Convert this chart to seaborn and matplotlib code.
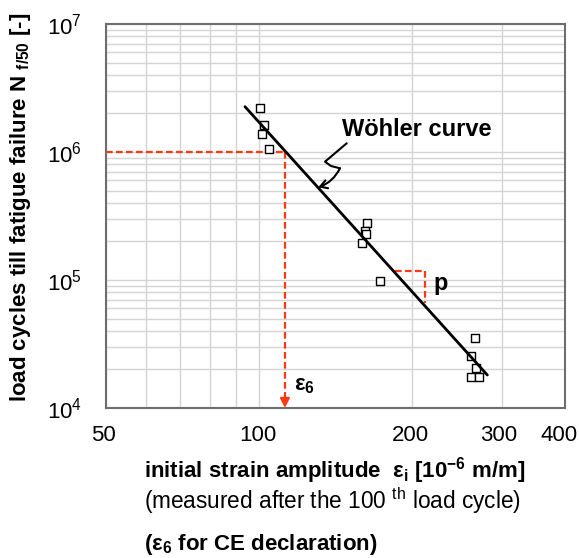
import numpy as np
import pandas as pd
import matplotlib
matplotlib.use("Agg")
import matplotlib.pyplot as plt
import seaborn as sns
import matplotlib.transforms as mtransforms
from matplotlib.ticker import FixedLocator, NullFormatter, LogLocator
from matplotlib.lines import Line2D

# ---- data ----
strain = [100.7, 102.2, 101.3, 104.5, 162.8, 161.3, 162.0, 159.2, 172.9,
          265.8, 260.6, 266.6, 260.6, 270.6]
cycles = [2.22e6, 1.63e6, 1.37e6, 1.05e6, 2.77e5, 2.43e5, 2.28e5, 1.94e5, 9.8e4,
          3.54e4, 2.55e4, 2.04e4, 1.76e4, 1.76e4]
fit_strain = [93.9, 281.1]
fit_cycles = [2.26e6, 1.81e4]
eps6 = 112.5
n6 = 1e6
p_strain = [185.1, 212.1]
p_cycles = [1.18e5, 6.65e4]
x_ticks = [50, 100, 200, 300, 400]
x_tick_labels = ["50", "100", "200", "300", "400"]
x_minor_grid = [60, 70, 80, 90]
y_ticks = [1e4, 1e5, 1e6, 1e7]
y_tick_labels = [r"$\mathregular{10^{4}}$", r"$\mathregular{10^{5}}$",
                 r"$\mathregular{10^{6}}$", r"$\mathregular{10^{7}}$"]

RED = "#ff3a12"
GRID = "#d4d4d4"
SPINE = "#6e6e6e"
FS = 16

sns.set_style("white")
plt.rcParams["font.family"] = ["Liberation Sans", "DejaVu Sans"]
plt.rcParams["mathtext.fontset"] = "custom"
plt.rcParams["mathtext.rm"] = "Liberation Sans"
plt.rcParams["mathtext.it"] = "Liberation Sans:italic"
plt.rcParams["mathtext.bf"] = "Liberation Sans:bold"
plt.rcParams["text.color"] = "black"
plt.rcParams["xtick.color"] = "black"
plt.rcParams["ytick.color"] = "black"
plt.rcParams["xtick.labelcolor"] = "black"
plt.rcParams["ytick.labelcolor"] = "black"

W, H = 579, 558
fig = plt.figure(figsize=(W / 100, H / 100), dpi=100)
x0, x1, yt, yb = 105.7, 565.3, 24, 408
ax = fig.add_axes([x0 / W, (H - yb) / H, (x1 - x0) / W, (yb - yt) / H])
ax.set_xscale("log")
ax.set_yscale("log")

df = pd.DataFrame({"strain": strain, "cycles": cycles})
fit = pd.DataFrame({"strain": fit_strain, "cycles": fit_cycles})

sns.scatterplot(data=df, x="strain", y="cycles", marker="s", s=30,
                facecolor="white", edgecolor="black", linewidth=1.0,
                ax=ax, zorder=3, legend=False)
sns.lineplot(data=fit, x="strain", y="cycles", color="black", lw=2.0,
             ax=ax, zorder=4, legend=False)

ax.set_xlim(50, 400)
ax.set_ylim(1e4, 1e7)

# red dashed construction lines
dash = (0, (3.0, 1.5))
ax.plot([50, eps6], [n6, n6], color=RED, lw=1.6, linestyle=dash, zorder=2)
ax.plot([eps6, eps6], [n6, 1.12e4], color=RED, lw=1.6, linestyle=dash, zorder=2)
ax.annotate("", xy=(eps6, 1e4), xytext=(eps6, 1.2e4),
            arrowprops=dict(arrowstyle="-|>,head_length=0.55,head_width=0.28",
                            color=RED, lw=1.6, shrinkA=0, shrinkB=0),
            zorder=5, annotation_clip=False)
ax.plot([p_strain[0], p_strain[1], p_strain[1]],
        [p_cycles[0], p_cycles[0], p_cycles[1]],
        color=RED, lw=1.6, linestyle=dash, zorder=2)

# ticks & grid
ax.xaxis.set_major_locator(FixedLocator(x_ticks))
ax.xaxis.set_major_formatter(plt.FixedFormatter(x_tick_labels))
ax.xaxis.set_minor_locator(FixedLocator(x_minor_grid))
ax.xaxis.set_minor_formatter(NullFormatter())
ax.yaxis.set_major_locator(FixedLocator(y_ticks))
ax.yaxis.set_major_formatter(plt.FixedFormatter(y_tick_labels))
ax.yaxis.set_minor_locator(LogLocator(base=10, subs=np.arange(2, 10)))
ax.yaxis.set_minor_formatter(NullFormatter())

ax.grid(True, which="both", color=GRID, lw=1.0, zorder=0)
ax.set_axisbelow(True)
ax.tick_params(axis="x", which="major", direction="inout", length=12, width=1.3,
               color="black", labelsize=FS, pad=6)
ax.tick_params(axis="y", which="major", direction="out", length=11.5, width=1.3,
               color=SPINE, labelsize=FS, pad=5.5)
ax.tick_params(which="minor", length=0)
for s in ax.spines.values():
    s.set_color(SPINE)
    s.set_linewidth(1.5)
ax.set_xlabel("")
ax.set_ylabel("")

# shift x tick labels slightly left, like the reference
shifts = [-2, -1, -1.5, -3.5, -6]
for lab, dx in zip(ax.get_xticklabels(), shifts):
    lab.set_transform(lab.get_transform() +
                      mtransforms.ScaledTranslation(dx / 100, 0, fig.dpi_scale_trans))

# annotations
fig.text(416.5 / W, 1 - 130 / H, "Wöhler curve", fontsize=17, fontweight="bold",
         ha="center", va="center")
fig.lines.append(Line2D([346.7 / W, 325 / W, 331 / W, 340 / W],
                        [1 - 143.3 / H, 1 - 161.7 / H, 1 - 166 / H, 1 - 168.3 / H],
                        transform=fig.transFigure, color="black", lw=1.5))
ax.annotate("", xy=(318.3, H - 187.3), xycoords="figure pixels",
            xytext=(340, H - 168.3), textcoords="figure pixels",
            arrowprops=dict(arrowstyle="->,head_length=0.5,head_width=0.3",
                            color="black", lw=1.5, shrinkA=0, shrinkB=0,
                            connectionstyle="arc3,rad=-0.2"),
            annotation_clip=False)
fig.text(433 / W, 1 - 290 / H, "p", fontsize=17, fontweight="bold",
         ha="left", va="baseline")
fig.text(294 / W, 1 - 390 / H, r"ε$_{\mathbf{6}}$", fontsize=FS, fontweight="bold",
         ha="left", va="baseline")

# axis labels
fig.text(21 / W, 1 - 207 / H,
         r"load cycles till fatigue failure N $_{\mathbf{f/50}}$ [-]",
         fontsize=FS, fontweight="bold", rotation=90, ha="center", va="center")
fig.text(143.8 / W, 1 - 477 / H,
         r"initial strain amplitude  ε$_{\mathbf{i}}$ [10$^{\mathbf{-6}}$ m/m]",
         fontsize=FS, fontweight="bold", ha="left", va="baseline")
fig.text(144.5 / W, 1 - 509.5 / H,
         r"(measured after the 100 $^{\mathregular{th}}$ load cycle)",
         fontsize=16.3, ha="left", va="baseline")
fig.text(143.8 / W, 1 - 550 / H,
         r"(ε$_{\mathbf{6}}$ for CE declaration)",
         fontsize=FS, fontweight="bold", ha="left", va="baseline")

fig.savefig("out.png", dpi=100)
